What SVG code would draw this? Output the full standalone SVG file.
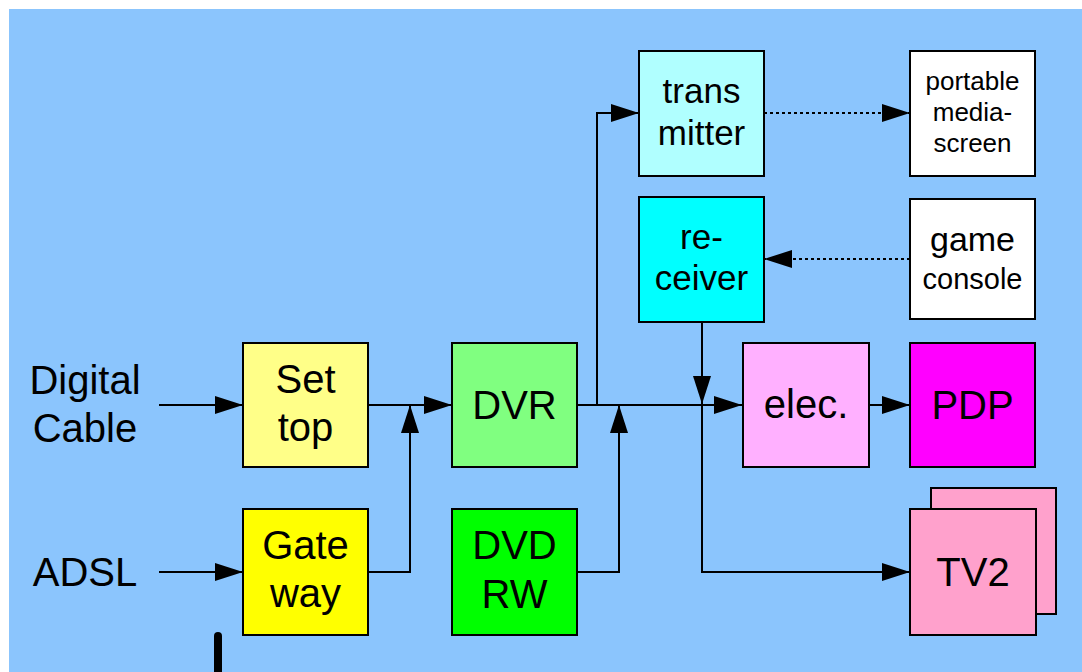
<svg xmlns="http://www.w3.org/2000/svg" width="1082" height="672" viewBox="0 0 1082 672">
<style>
.box{stroke:#000;stroke-width:2}
.t{font-family:"Liberation Sans",Arial,sans-serif;fill:#000;text-anchor:middle}
.c{fill:none;stroke:#000;stroke-width:2}
.d{stroke-dasharray:3 3}
</style>
<defs>
<marker id="ah" markerUnits="userSpaceOnUse" markerWidth="28" markerHeight="18" refX="28" refY="9" orient="auto">
<path d="M0,0 L28,9 L0,18 z" fill="#000"/>
</marker>
</defs>
<rect x="0" y="0" width="1082" height="672" fill="#fff"/>
<rect x="9" y="9" width="1073" height="663" fill="#8BC5FD"/>
<line x1="218" y1="636" x2="218" y2="680" stroke="#000" stroke-width="8" stroke-linecap="round"/>
<text class="t" x="85" y="394" font-size="40">Digital</text>
<text class="t" x="85" y="442" font-size="40">Cable</text>
<text class="t" x="85" y="586" font-size="40">ADSL</text>
<g id="connectors">
<path class="c" d="M159,405 H243" marker-end="url(#ah)"/>
<path class="c" d="M159,572 H243" marker-end="url(#ah)"/>
<path class="c" d="M368,405 H452" marker-end="url(#ah)"/>
<path class="c" d="M368,572 H410 V405" marker-end="url(#ah)"/>
<path class="c" d="M577,405 H742" marker-end="url(#ah)"/>
<path class="c" d="M597,405 V113 H639" marker-end="url(#ah)"/>
<path class="c" d="M577,572 H619 V405" marker-end="url(#ah)"/>
<path class="c" d="M702,322 V404" marker-end="url(#ah)"/>
<path class="c" d="M702,404 V572 H910" marker-end="url(#ah)"/>
<path class="c" d="M869,405 H910" marker-end="url(#ah)"/>
<path class="c d" d="M764,113 H910" marker-end="url(#ah)"/>
<path class="c d" d="M910,259 H764" marker-end="url(#ah)"/>
</g>
<g id="settop">
<rect class="box" x="243" y="343" width="125" height="124" fill="#FFFF88"/>
<text class="t" x="305.5" y="393" font-size="40">Set</text>
<text class="t" x="305.5" y="441" font-size="40">top</text>
</g>
<g id="gateway">
<rect class="box" x="243" y="509" width="125" height="126" fill="#FFFF00"/>
<text class="t" x="305.5" y="559" font-size="40">Gate</text>
<text class="t" x="305.5" y="607" font-size="40">way</text>
</g>
<g id="dvr">
<rect class="box" x="452" y="343" width="125" height="124" fill="#80FF80"/>
<text class="t" x="514.5" y="419" font-size="40">DVR</text>
</g>
<g id="dvdrw">
<rect class="box" x="452" y="509" width="125" height="126" fill="#00FF00"/>
<text class="t" x="514.5" y="559" font-size="40">DVD</text>
<text class="t" x="514.5" y="608" font-size="40">RW</text>
</g>
<g id="transmitter">
<rect class="box" x="639" y="51" width="125" height="125" fill="#B0FFFF"/>
<text class="t" x="701.5" y="103" font-size="35">trans</text>
<text class="t" x="701.5" y="145" font-size="35">mitter</text>
</g>
<g id="receiver">
<rect class="box" x="639" y="197" width="125" height="125" fill="#00FFFF"/>
<text class="t" x="701.5" y="249" font-size="35">re-</text>
<text class="t" x="701.5" y="290" font-size="35">ceiver</text>
</g>
<g id="portable">
<rect class="box" x="910" y="51" width="125" height="125" fill="#FFFFFF"/>
<text class="t" x="972.5" y="90" font-size="26">portable</text>
<text class="t" x="972.5" y="121" font-size="26">media-</text>
<text class="t" x="972.5" y="152" font-size="26">screen</text>
</g>
<g id="game">
<rect class="box" x="910" y="199" width="125" height="120" fill="#FFFFFF"/>
<text class="t" x="972.5" y="251" font-size="34">game</text>
<text class="t" x="972.5" y="289" font-size="29">console</text>
</g>
<g id="elec">
<rect class="box" x="743" y="343" width="126" height="124" fill="#FFB0FF"/>
<text class="t" x="806" y="418" font-size="40">elec.</text>
</g>
<g id="pdp">
<rect class="box" x="910" y="343" width="125" height="124" fill="#FF00FF"/>
<text class="t" x="972.5" y="419" font-size="40">PDP</text>
</g>
<g id="tv2">
<rect class="box" x="931" y="488" width="125" height="126" fill="#FFA1CC"/>
<rect class="box" x="910" y="509" width="126" height="126" fill="#FFA1CC"/>
<text class="t" x="973" y="586" font-size="40">TV2</text>
</g>
</svg>
